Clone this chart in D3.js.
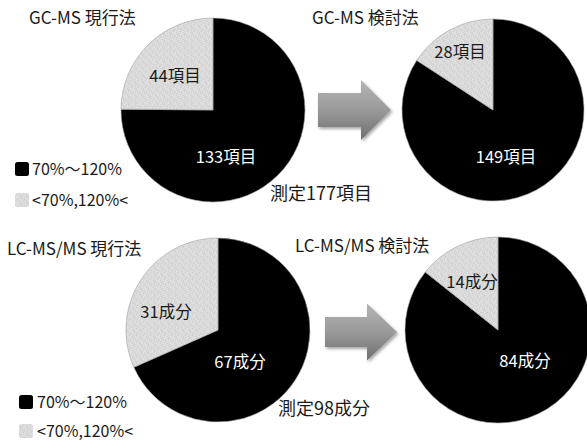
<!DOCTYPE html>
<html>
<head>
<meta charset="utf-8">
<script src="https://cdn.jsdelivr.net/npm/d3@7"></script>
<style>
  html, body { margin: 0; padding: 0; background: #fff; }
  svg { display: block; }
  text { font-family: "Noto Sans CJK JP", "Noto Sans", sans-serif; fill: #1a1a1a; }
</style>
</head>
<body>
<svg id="chart" width="587" height="443"></svg>
<script>
// Recovery-rate classification for each method
const categories = ["70%～120%", "<70%,120%<"];
const panelTitles = ["GC-MS 現行法", "GC-MS 検討法", "LC-MS/MS 現行法", "LC-MS/MS 検討法"];
const gcCurrent = [133, 44];
const gcRevised = [149, 28];
const lcCurrent = [67, 31];
const lcRevised = [84, 14];
const gcUnit = "項目";
const lcUnit = "成分";
const totalLabels = ["測定177項目", "測定98成分"];

const svg = d3.select("#chart");
const defs = svg.append("defs");

// Fine speckled light-grey fill for the out-of-range slice
const pat = defs.append("pattern")
  .attr("id", "speckle").attr("patternUnits", "userSpaceOnUse")
  .attr("width", 7).attr("height", 7);
pat.append("rect").attr("width", 7).attr("height", 7).attr("fill", "#dadada");
const speckles = [
  [0,0,"#cdcdcd"],[4,0,"#e5e5e5"],[2,1,"#e3e3e3"],[6,1,"#cfcfcf"],[1,2,"#d0d0d0"],
  [5,2,"#e4e4e4"],[3,3,"#cccccc"],[0,4,"#e6e6e6"],[6,4,"#d1d1d1"],[2,5,"#cecece"],
  [4,5,"#e2e2e2"],[1,6,"#e4e4e4"],[5,6,"#cdcdcd"],[3,6,"#e1e1e1"]
];
speckles.forEach(([x, y, c]) => pat.append("rect").attr("x", x).attr("y", y)
  .attr("width", 1).attr("height", 1).attr("fill", c));

// Arrow shading
const grad = defs.append("linearGradient").attr("id", "arrowGrad")
  .attr("x1", 0).attr("y1", 0).attr("x2", 0).attr("y2", 1);
grad.append("stop").attr("offset", "0%").attr("stop-color", "#b4b4b4");
grad.append("stop").attr("offset", "50%").attr("stop-color", "#9a9a9a");
grad.append("stop").attr("offset", "100%").attr("stop-color", "#6e6e6e");
const shadow = defs.append("filter").attr("id", "arrowShadow")
  .attr("x", "-20%").attr("y", "-20%").attr("width", "150%").attr("height", "150%");
shadow.append("feDropShadow").attr("dx", 1.5).attr("dy", 2).attr("stdDeviation", 1.5)
  .attr("flood-color", "#000").attr("flood-opacity", 0.35);

const color = d3.scaleOrdinal().domain(categories).range(["#000000", "url(#speckle)"]);
const pie = d3.pie().sort(null).value(d => d.value);

// Layout of the four panels
const panels = [
  { values: gcCurrent, unit: gcUnit, cx: 213, cy: 110, r: 92, title: [29, 24],
    labelOffsets: [[13, 53], [-38, -28]] },
  { values: gcRevised, unit: gcUnit, cx: 493, cy: 110, r: 91, title: [312, 24],
    labelOffsets: [[13, 53], [-33, -52]] },
  { values: lcCurrent, unit: lcUnit, cx: 218, cy: 330, r: 92, title: [7, 255],
    labelOffsets: [[22, 38], [-52, -12]] },
  { values: lcRevised, unit: lcUnit, cx: 498, cy: 330, r: 93, title: [295, 252],
    labelOffsets: [[27, 37], [-26, -42]] }
];

panels.forEach((p, i) => {
  const data = categories.map((c, k) => ({ cat: c, value: p.values[k] }));
  const arc = d3.arc().innerRadius(0).outerRadius(p.r);
  const g = svg.append("g").attr("transform", `translate(${p.cx},${p.cy})`);
  g.selectAll("path").data(pie(data)).join("path")
    .attr("d", arc)
    .attr("fill", d => color(d.data.cat))
    .attr("stroke", "#a0a0a0").attr("stroke-width", 0.6);
  g.selectAll("text.val").data(pie(data)).join("text")
    .attr("class", "val")
    .attr("x", (d, k) => p.labelOffsets[k][0])
    .attr("y", (d, k) => p.labelOffsets[k][1])
    .attr("text-anchor", "middle")
    .style("font-size", "16.5px")
    .style("fill", (d, k) => k === 0 ? "#ffffff" : "#1a1a1a")
    .text(d => d.data.value + p.unit);
  svg.append("text")
    .attr("x", p.title[0]).attr("y", p.title[1])
    .style("font-size", "17px")
    .text(panelTitles[i]);
});

// Totals
svg.append("text").attr("x", 270).attr("y", 200).style("font-size", "18px").text(totalLabels[0]);
svg.append("text").attr("x", 278).attr("y", 415).style("font-size", "18px").text(totalLabels[1]);

// Legends
const legends = [
  { x: 15, y: 162, size: 14, gap: 31, tx: 32 },
  { x: 19, y: 395, size: 14, gap: 29, tx: 37 }
];
legends.forEach(L => {
  categories.forEach((c, k) => {
    svg.append("rect")
      .attr("x", L.x).attr("y", L.y + k * L.gap)
      .attr("width", L.size).attr("height", L.size)
      .attr("rx", 2.5)
      .attr("fill", color(c));
    svg.append("text")
      .attr("x", L.tx).attr("y", L.y + k * L.gap + L.size - 1)
      .style("font-size", "16px")
      .text(c);
  });
});

// Block arrows between current and revised pies
function arrowPath(x0, x1, cy, shaftH, headH, headX) {
  const p = d3.path();
  p.moveTo(x0, cy - shaftH / 2);
  p.lineTo(headX, cy - shaftH / 2);
  p.lineTo(headX, cy - headH / 2);
  p.lineTo(x1, cy);
  p.lineTo(headX, cy + headH / 2);
  p.lineTo(headX, cy + shaftH / 2);
  p.lineTo(x0, cy + shaftH / 2);
  p.closePath();
  return p.toString();
}
[
  { x0: 318, x1: 391, cy: 110, shaftH: 34, headH: 60, headX: 361 },
  { x0: 325, x1: 397, cy: 332, shaftH: 30, headH: 57, headX: 367 }
].forEach(a => {
  svg.append("path")
    .attr("d", arrowPath(a.x0, a.x1, a.cy, a.shaftH, a.headH, a.headX))
    .attr("fill", "url(#arrowGrad)")
    .attr("filter", "url(#arrowShadow)");
});
</script>
</body>
</html>
